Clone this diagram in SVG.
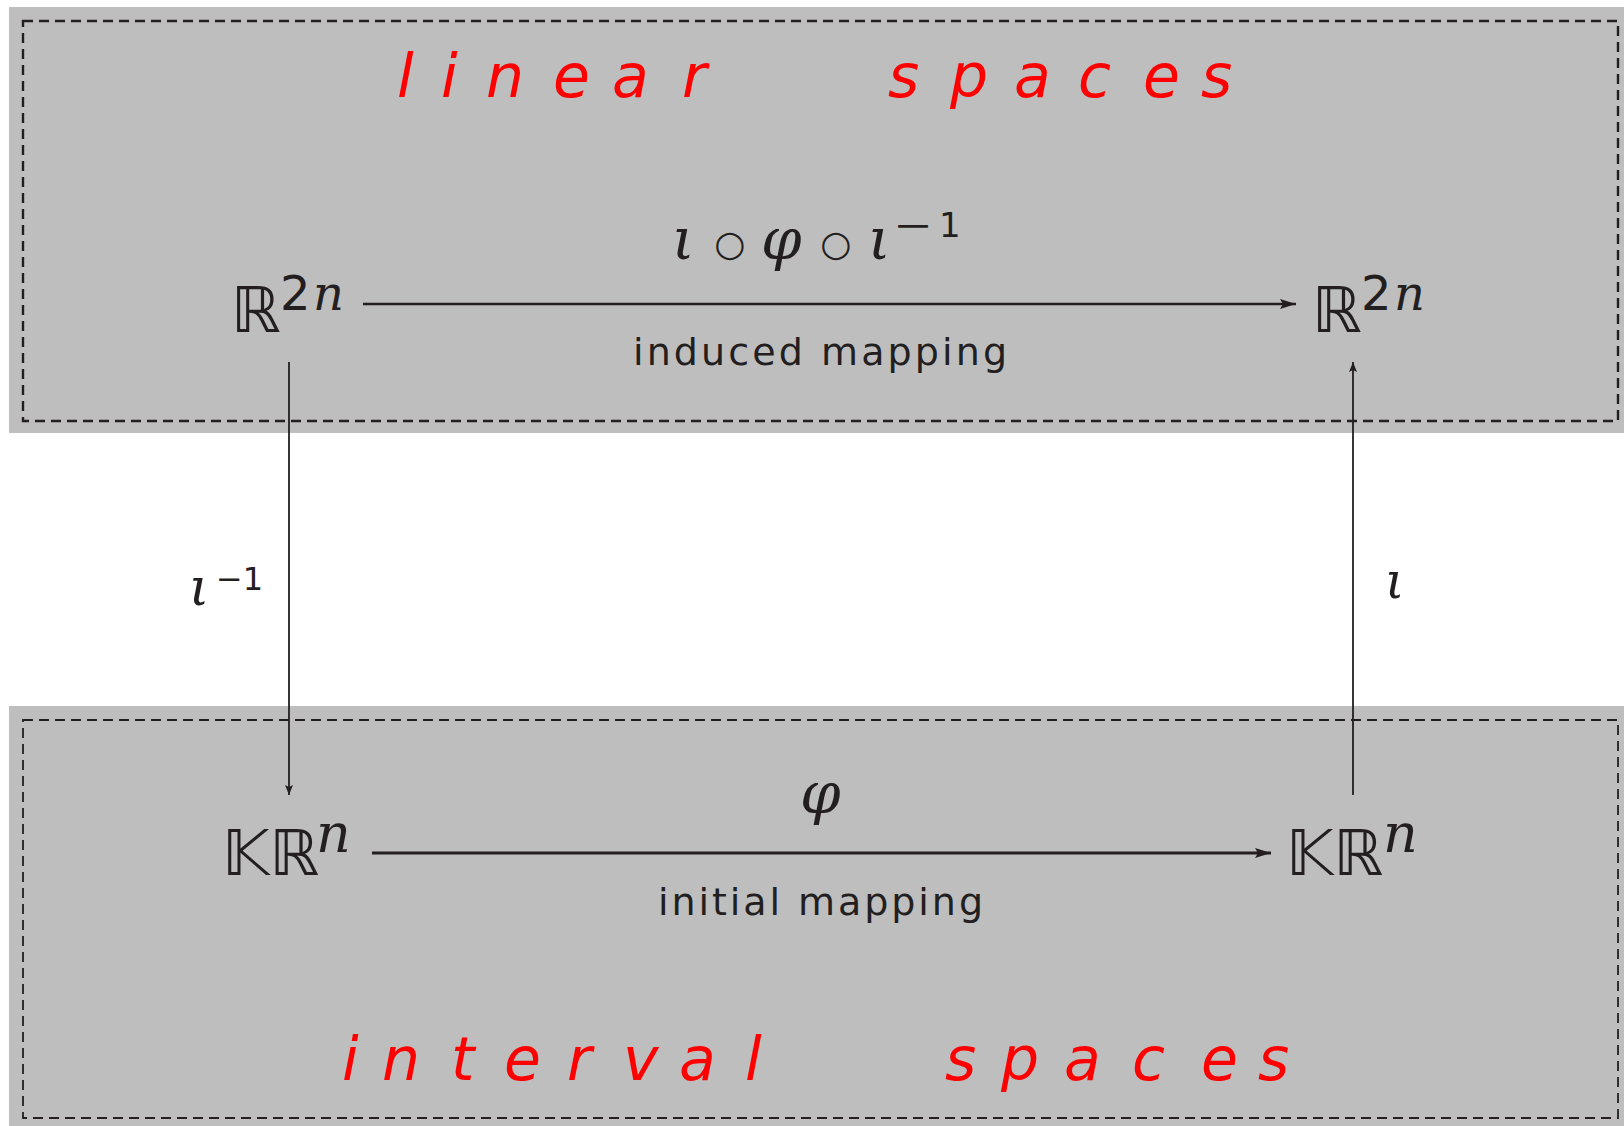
<svg xmlns="http://www.w3.org/2000/svg" width="1624" height="1126" viewBox="0 0 1624 1126">
<style>
.bg{fill:#bebebe}
.frame{fill:none;stroke:#231f20;stroke-width:2.4;stroke-dasharray:10 6}
.red{fill:#ff0000;font-family:"DejaVu Sans",sans-serif;font-style:italic;font-size:60px}
.bb{fill:#231f20;font-family:"DejaVu Sans",sans-serif;font-size:63px}
.mi{fill:#231f20;font-family:"DejaVu Serif",serif;font-style:italic}
.up{fill:#231f20;font-family:"DejaVu Sans",sans-serif}
.lbl{fill:#231f20;font-family:"DejaVu Sans",sans-serif;font-size:38px}
.conn{stroke:#231f20;fill:none}
</style>
<defs>
<marker id="ah" viewBox="0 0 16 10" refX="16" refY="5" markerWidth="16" markerHeight="10" markerUnits="userSpaceOnUse" orient="auto"><path d="M0,0 L16,5 L0,10 L3,5 Z" fill="#231f20"/></marker>
<marker id="ahs" viewBox="0 0 10 8" refX="10" refY="4" markerWidth="10" markerHeight="8" markerUnits="userSpaceOnUse" orient="auto"><path d="M0,0 L10,4 L0,8 L2,4 Z" fill="#231f20"/></marker>
</defs>

<g id="linear-spaces">
<rect class="bg" x="9" y="7" width="1615" height="426"/>
<rect class="frame" x="23" y="21" width="1595" height="400"/>
<text class="red" x="397 441 486 553 612 682" y="97">linear</text>
<text class="red" x="888 950 1014 1078 1143 1201" y="97">spaces</text>
</g>

<g id="interval-spaces">
<rect class="bg" x="9" y="706" width="1615" height="420"/>
<rect class="frame" x="23" y="720" width="1595" height="398" style="stroke-width:1.8"/>
<text class="red" x="342 382 451 504 567 623 679 745" y="1080">interval</text>
<text class="red" x="945 1001 1064 1132 1201 1258" y="1080">spaces</text>
</g>

<g id="R2n-left">
<text class="bb" x="231" y="332">ℝ</text>
<text class="up" x="280" y="310" font-size="48">2</text>
<text class="mi" x="313" y="310" font-size="48">n</text>
</g>

<g id="R2n-right">
<text class="bb" x="1312" y="332">ℝ</text>
<text class="up" x="1361" y="310" font-size="48">2</text>
<text class="mi" x="1394" y="310" font-size="48">n</text>
</g>

<g id="KRn-left">
<text class="bb" x="222" y="875">𝕂ℝ</text>
<text class="mi" x="316" y="852" font-size="54">n</text>
</g>

<g id="KRn-right">
<text class="bb" x="1286" y="875">𝕂ℝ</text>
<text class="mi" x="1383" y="852" font-size="54">n</text>
</g>

<g id="connectors">
<line class="conn" x1="363" y1="304" x2="1296" y2="304" stroke-width="2.6" marker-end="url(#ah)"/>
<line class="conn" x1="372" y1="853" x2="1271" y2="853" stroke-width="3.2" marker-end="url(#ah)"/>
<line class="conn" x1="289" y1="362" x2="289" y2="795" stroke-width="1.8" marker-end="url(#ahs)"/>
<line class="conn" x1="1353" y1="795" x2="1353" y2="362" stroke-width="1.8" marker-end="url(#ahs)"/>
</g>

<g id="labels">
<text class="mi" x="672" y="259" font-size="58">ι</text>
<text class="up" x="730" y="256" font-size="36" text-anchor="middle">○</text>
<text class="mi" x="761" y="259" font-size="58">φ</text>
<text class="up" x="836" y="256" font-size="36" text-anchor="middle">○</text>
<text class="mi" x="868" y="259" font-size="58">ι</text>
<text class="up" x="893" y="237" font-size="34" textLength="40" lengthAdjust="spacingAndGlyphs">−</text>
<text class="up" x="939" y="237" font-size="34">1</text>
<text class="lbl" x="633" y="365" textLength="374" lengthAdjust="spacing">induced mapping</text>
<text class="mi" x="800" y="813" font-size="58">φ</text>
<text class="lbl" x="658" y="915" textLength="325" lengthAdjust="spacing">initial mapping</text>
<text class="mi" x="189" y="605" font-size="52">ι</text>
<text class="up" x="216" y="590" font-size="32">−1</text>
<text class="mi" x="1385" y="598" font-size="50">ι</text>
</g>
</svg>
